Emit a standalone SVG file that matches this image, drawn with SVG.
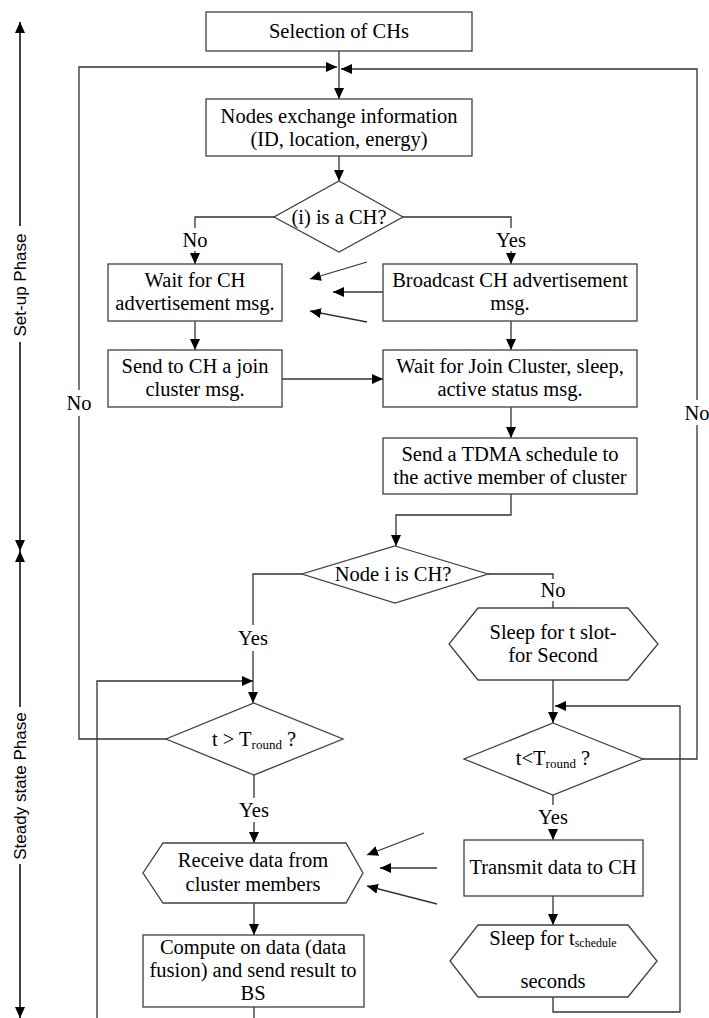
<svg xmlns="http://www.w3.org/2000/svg" width="709" height="1018" viewBox="0 0 709 1018">
<style>
.box{fill:#fff;stroke:#404040;stroke-width:1.3}
.t{font-family:"Liberation Serif","Times New Roman",serif;font-size:20.5px;fill:#000;text-anchor:middle}
.c{fill:none;stroke:#333;stroke-width:1.3}
.ax{fill:none;stroke:#000;stroke-width:1.5}
.ph{font-family:"Liberation Sans",Arial,sans-serif;font-size:17px;fill:#000;text-anchor:middle;dominant-baseline:central}
</style>
<defs>
<marker id="a" markerUnits="userSpaceOnUse" markerWidth="11" markerHeight="10" refX="11" refY="5" orient="auto">
<path d="M0,0 L11,5 L0,10 z" fill="#000"/>
</marker>
</defs>
<rect width="709" height="1018" fill="#fff"/>

<g id="axis">
<path class="ax" d="M20,226 V22" marker-end="url(#a)"/>
<path class="ax" d="M20,342 V551" marker-end="url(#a)"/>
<path class="ax" d="M20,707 V551" marker-end="url(#a)"/>
<path class="ax" d="M20,864 V1018" marker-end="url(#a)"/>
<text class="ph" transform="translate(20,285) rotate(-90)">Set-up Phase</text>
<text class="ph" transform="translate(20,786) rotate(-90)">Steady state Phase</text>
</g>

<g id="connectors">
<path class="c" d="M339,51 V68"/>
<path class="c" d="M339,68 V99" marker-end="url(#a)"/>
<path class="c" d="M166,739 H79 V416"/>
<path class="c" d="M79,390 V67 H337" marker-end="url(#a)"/>
<path class="c" d="M643,759 H697 V425"/>
<path class="c" d="M697,400 V69 H341" marker-end="url(#a)"/>
<path class="c" d="M339,156 V181" marker-end="url(#a)"/>
<path class="c" d="M274,217 H195 V228"/>
<path class="c" d="M195,251 V264" marker-end="url(#a)"/>
<path class="c" d="M403,217 H511 V228"/>
<path class="c" d="M511,251 V264" marker-end="url(#a)"/>
<path class="c" d="M195,321 V350" marker-end="url(#a)"/>
<path class="c" d="M511,321 V350" marker-end="url(#a)"/>
<path class="c" d="M282,379 H383" marker-end="url(#a)"/>
<path class="c" d="M511,407 V438" marker-end="url(#a)"/>
<path class="c" d="M367,262 L310,279" marker-end="url(#a)"/>
<path class="c" d="M383,292 H333" marker-end="url(#a)"/>
<path class="c" d="M367,322 L310,311" marker-end="url(#a)"/>
<path class="c" d="M511,494 V515 H396 V546" marker-end="url(#a)"/>
<path class="c" d="M302,574 H253 V625"/>
<path class="c" d="M253,651 V703" marker-end="url(#a)"/>
<path class="c" d="M97,1018 V681 H253" marker-end="url(#a)"/>
<path class="c" d="M488,574 H553 V579"/>
<path class="c" d="M553,601 V608"/>
<path class="c" d="M553,680 V723" marker-end="url(#a)"/>
<path class="c" d="M553,997 V1012 H680 V706 H555" marker-end="url(#a)"/>
<path class="c" d="M553,795 V805"/>
<path class="c" d="M553,829 V840" marker-end="url(#a)"/>
<path class="c" d="M553,896 V925" marker-end="url(#a)"/>
<path class="c" d="M254,775 V798"/>
<path class="c" d="M254,822 V843" marker-end="url(#a)"/>
<path class="c" d="M254,903 V935" marker-end="url(#a)"/>
<path class="c" d="M254,1007 V1018"/>
<path class="c" d="M424,833 L367,855" marker-end="url(#a)"/>
<path class="c" d="M437,868 H380" marker-end="url(#a)"/>
<path class="c" d="M437,904 L367,886" marker-end="url(#a)"/>
</g>

<g id="labels">
<text class="t" x="79" y="410">No</text>
<text class="t" x="697" y="420">No</text>
<text class="t" x="195" y="247">No</text>
<text class="t" x="511" y="247">Yes</text>
<text class="t" x="253" y="645">Yes</text>
<text class="t" x="553" y="597">No</text>
<text class="t" x="553" y="824">Yes</text>
<text class="t" x="254" y="817">Yes</text>
</g>

<g id="n1"><rect class="box" x="206" y="12" width="266" height="39"/><text class="t" x="339" y="38">Selection of CHs</text></g>
<g id="n2"><rect class="box" x="206" y="99" width="266" height="57"/><text class="t" x="339" y="123">Nodes exchange information</text><text class="t" x="339" y="146">(ID, location, energy)</text></g>
<g id="n3"><polygon class="box" points="339,181 403,217 339,252 274,217"/><text class="t" x="339" y="224">(i) is a CH?</text></g>
<g id="n4"><rect class="box" x="108" y="264" width="174" height="57"/><text class="t" x="195" y="287">Wait for CH</text><text class="t" x="195" y="310">advertisement msg.</text></g>
<g id="n5"><rect class="box" x="383" y="264" width="254" height="57"/><text class="t" x="510" y="287">Broadcast CH advertisement</text><text class="t" x="510" y="310">msg.</text></g>
<g id="n6"><rect class="box" x="108" y="350" width="174" height="57"/><text class="t" x="195" y="373">Send to CH a join</text><text class="t" x="195" y="396">cluster msg.</text></g>
<g id="n7"><rect class="box" x="383" y="350" width="254" height="57"/><text class="t" x="510" y="373">Wait for Join Cluster, sleep,</text><text class="t" x="510" y="396">active status msg.</text></g>
<g id="n8"><rect class="box" x="383" y="438" width="254" height="56"/><text class="t" x="510" y="461">Send a TDMA schedule to</text><text class="t" x="510" y="484">the active member of cluster</text></g>
<g id="n9"><polygon class="box" points="395,546 488,574 395,603 302,574"/><text class="t" x="393" y="581">Node i is CH?</text></g>
<g id="n10"><polygon class="box" points="478,608 628,608 658,644 628,680 478,680 449,644"/><text class="t" x="553" y="639">Sleep for t slot-</text><text class="t" x="553" y="662">for Second</text></g>
<g id="n11"><polygon class="box" points="254,703 343,739 254,775 166,739"/><text class="t" x="254" y="746">t &gt; T<tspan font-size="13" dy="3">round</tspan><tspan dy="-3"> ?</tspan></text></g>
<g id="n12"><polygon class="box" points="553,723 643,759 553,795 464,759"/><text class="t" x="553" y="765">t&lt;T<tspan font-size="13" dy="3">round</tspan><tspan dy="-3"> ?</tspan></text></g>
<g id="n13"><rect class="box" x="464" y="840" width="179" height="56"/><text class="t" x="553" y="874">Transmit data to CH</text></g>
<g id="n14"><polygon class="box" points="478,925 628,925 657,961 628,997 478,997 450,961"/><text class="t" x="553" y="945">Sleep for t<tspan font-size="12" dy="2">schedule</tspan></text><text class="t" x="553" y="988">seconds</text></g>
<g id="n15"><polygon class="box" points="163,843 346,843 363,873 346,903 163,903 143,873"/><text class="t" x="253" y="867">Receive data from</text><text class="t" x="253" y="891">cluster members</text></g>
<g id="n16"><rect class="box" x="143" y="935" width="221" height="72"/><text class="t" x="253" y="954">Compute on data (data</text><text class="t" x="253" y="977">fusion) and send result to</text><text class="t" x="253" y="1000">BS</text></g>
</svg>
